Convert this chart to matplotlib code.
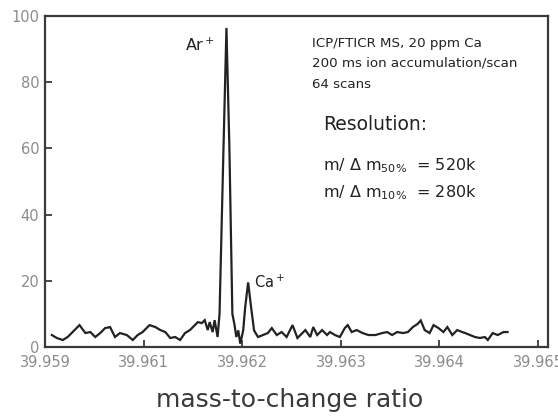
"""
ICP/FTICR mass spectrum of Ar+ and Ca+ near m/z 40.
"""
import matplotlib
matplotlib.use("Agg")
import matplotlib.pyplot as plt

# mass axis (u) and relative intensity
MZ = [39.96007, 39.96012, 39.96018, 39.96023, 39.96028, 39.96035, 39.96041,
      39.96046, 39.96051, 39.96056, 39.96061, 39.96066, 39.96071, 39.96076,
      39.96083, 39.96089, 39.96094, 39.96099, 39.96106, 39.96112, 39.96117,
      39.96122, 39.96127, 39.96132, 39.96137, 39.96142, 39.96147, 39.96152,
      39.96155, 39.96159, 39.96162, 39.96165, 39.96167, 39.96170, 39.96172,
      39.96175, 39.96177, 39.96181, 39.96184, 39.96187, 39.96190, 39.96192,
      39.96194, 39.96196, 39.96198, 39.96201, 39.96203, 39.96206, 39.96209,
      39.96212, 39.96216, 39.96221, 39.96226, 39.96230, 39.96235, 39.96240,
      39.96245, 39.96251, 39.96256, 39.96261, 39.96264, 39.96269, 39.96272,
      39.96276, 39.96281, 39.96286, 39.96289, 39.96294, 39.96299, 39.96304,
      39.96307, 39.96311, 39.96316, 39.96322, 39.96328, 39.96335, 39.96342,
      39.96347, 39.96352, 39.96357, 39.96363, 39.96368, 39.96373, 39.96378,
      39.96381, 39.96385, 39.96390, 39.96394, 39.96399, 39.96404, 39.96408,
      39.96413, 39.96418, 39.96423, 39.96426, 39.96431, 39.96436, 39.96441,
      39.96446, 39.96449, 39.96454, 39.96459, 39.96465, 39.96469]
INTENSITY = [3.6, 2.7, 2.1, 3.0, 4.5, 6.6, 4.2,
             4.5, 3.0, 4.2, 5.7, 6.0, 3.0, 4.2,
             3.6, 2.1, 3.6, 4.5, 6.6, 6.0, 5.1,
             4.5, 2.7, 3.0, 2.1, 4.2, 5.1, 6.6,
             7.5, 7.2, 8.1, 5.1, 7.5, 4.5, 8.1,
             3.0, 10.0, 60.0, 96.4, 60.0, 10.0, 7.0,
             3.0, 5.0, 1.0, 5.0, 12.0, 19.5, 12.0,
             5.0, 3.0, 3.6, 4.2, 5.7, 3.6, 4.5,
             3.0, 6.6, 2.7, 4.2, 5.1, 3.0, 6.0,
             3.6, 5.1, 3.6, 4.5, 3.6, 3.0, 5.7,
             6.6, 4.5, 5.1, 4.2, 3.6, 3.6, 4.2,
             4.5, 3.6, 4.5, 4.2, 4.5, 6.0, 7.0,
             8.0, 5.1, 4.2, 6.6, 5.7, 4.5, 6.0,
             3.6, 5.1, 4.5, 4.2, 3.6, 3.0, 2.7,
             3.0, 2.1, 4.2, 3.6, 4.5, 4.5]

XTICKS = [39.960, 39.961, 39.962, 39.963, 39.964, 39.965]
XTICK_LABELS = ["39.959", "39.961", "39.962", "39.963", "39.964", "39.965"]
YTICKS = [0, 20, 40, 60, 80, 100]

GRAY = "#8c8c8c"
DARK = "#222222"

fig = plt.figure(figsize=(5.58, 4.17), dpi=100)
ax = fig.add_axes([0.0806, 0.168, 0.9014, 0.7936])

ax.plot(MZ, INTENSITY, color=DARK, lw=1.6, solid_joinstyle="miter")

ax.set_xlim(39.960, 39.96510)
ax.set_ylim(0, 100)
ax.set_xticks(XTICKS)
ax.set_xticklabels(XTICK_LABELS)
ax.set_yticks(YTICKS)

for s in ax.spines.values():
    s.set_color("#3a3a3a")
    s.set_linewidth(1.6)
ax.tick_params(direction="in", length=5, width=1.3, color="#3a3a3a",
               labelcolor=GRAY, labelsize=10.5, top=False, right=False)
ax.tick_params(axis="x", pad=6)
ax.tick_params(axis="y", pad=4)

fig.text(290 / 558, 1 - 400 / 417, "mass-to-change ratio", ha="center",
         va="center", fontsize=18, color="#3a3a3a")

# peak labels
ax.text(39.96172, 91, "Ar$^+$", ha="right", va="center", fontsize=11.5,
        color=DARK)
ax.text(39.96212, 19.5, "Ca$^+$", ha="left", va="center", fontsize=10.5,
        color=DARK)

# run conditions
info = ["ICP/FTICR MS, 20 ppm Ca",
        "200 ms ion accumulation/scan",
        "64 scans"]
for i, line in enumerate(info):
    fig.text(312 / 558, 1 - (43 + 20.5 * i) / 417, line, ha="left", va="center",
             fontsize=9.6, color=DARK)

fig.text(323 / 558, 1 - 125 / 417, "Resolution:", ha="left", va="center",
         fontsize=13.5, color=DARK)
fig.text(323 / 558, 1 - 166 / 417,
         r"m/ $\Delta$ m$_{\mathregular{50\%}}$  = 520k", ha="left",
         va="center", fontsize=11.5, color=DARK)
fig.text(323 / 558, 1 - 193 / 417,
         r"m/ $\Delta$ m$_{\mathregular{10\%}}$  = 280k", ha="left",
         va="center", fontsize=11.5, color=DARK)

fig.savefig("out.png", dpi=100)
